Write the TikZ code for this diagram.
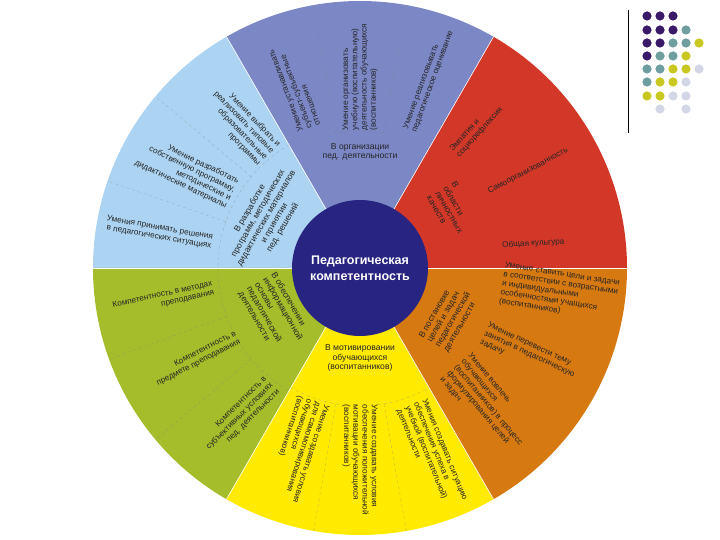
\documentclass[tikz,border=0pt]{standalone}
\usepackage{fontspec}
\setmainfont{Liberation Sans}
\usepackage{xcolor}
\usepackage{tikz}
\usetikzlibrary{calc}

\definecolor{orgblue}{RGB}{124,135,198}
\definecolor{lichred}{RGB}{210,55,40}
\definecolor{celorange}{RGB}{215,121,17}
\definecolor{motyellow}{RGB}{255,234,0}
\definecolor{infgreen}{RGB}{165,189,42}
\definecolor{razrblue}{RGB}{172,212,242}
\definecolor{kernblue}{RGB}{40,36,130}
\definecolor{dotP}{RGB}{58,26,104}
\definecolor{dotT}{RGB}{110,158,160}
\definecolor{dotY}{RGB}{201,200,32}
\definecolor{dotL}{RGB}{211,214,230}

\begin{document}
\begin{tikzpicture}[x=1pt,y=1pt,
    outtxt/.style={font=\fontsize{8.2}{9.2}\selectfont,text=black!85,inner sep=0pt},
    intxt/.style={font=\fontsize{8.6}{9.5}\selectfont,text=black!85,inner sep=0pt},
    subline/.style={draw=black!50,dashed,line width=0.4pt,opacity=0.45},
    rim/.style={draw=white,line width=0.6pt}]
\useasboundingbox (0,0) rectangle (720,540);
\coordinate (O) at (360,272);
% sectors
\fill[orgblue] (O) -- ($(O)+(60:267)$) arc[start angle=60,end angle=120,radius=267] -- cycle;
\fill[razrblue] (O) -- ($(O)+(120:267)$) arc[start angle=120,end angle=180,radius=267] -- cycle;
\fill[infgreen] (O) -- ($(O)+(180:267)$) arc[start angle=180,end angle=240,radius=267] -- cycle;
\fill[motyellow] (O) -- ($(O)+(240:267)$) arc[start angle=240,end angle=300,radius=267] -- cycle;
\fill[celorange] (O) -- ($(O)+(-60:267)$) arc[start angle=-60,end angle=0,radius=267] -- cycle;
\fill[lichred] (O) -- ($(O)+(0:267)$) arc[start angle=0,end angle=60,radius=267] -- cycle;
\draw[rim] (O) -- ($(O)+(0:267)$);
\draw[rim] (O) -- ($(O)+(60:267)$);
\draw[rim] (O) -- ($(O)+(120:267)$);
\draw[rim] (O) -- ($(O)+(180:267)$);
\draw[rim] (O) -- ($(O)+(240:267)$);
\draw[rim] (O) -- ($(O)+(300:267)$);
% inner band and subsections
\draw[subline] ($(O)+(60:137)$) arc[start angle=60,end angle=120,radius=137];
\draw[subline] ($(O)+(120:142)$) arc[start angle=120,end angle=180,radius=142];
\draw[subline] ($(O)+(180:142)$) arc[start angle=180,end angle=240,radius=142];
\draw[subline] ($(O)+(240:138)$) arc[start angle=240,end angle=300,radius=138];
\draw[subline] ($(O)+(80:137)$) -- ($(O)+(80:267)$);
\draw[subline] ($(O)+(100:137)$) -- ($(O)+(100:267)$);
\draw[subline] ($(O)+(140:142)$) -- ($(O)+(140:267)$);
\draw[subline] ($(O)+(161:142)$) -- ($(O)+(161:267)$);
\draw[subline] ($(O)+(200:142)$) -- ($(O)+(200:267)$);
\draw[subline] ($(O)+(220:142)$) -- ($(O)+(220:267)$);
\draw[subline] ($(O)+(260:138)$) -- ($(O)+(260:267)$);
\draw[subline] ($(O)+(280:138)$) -- ($(O)+(280:267)$);
% centre
\fill[kernblue] (O) circle (68);
\node[font=\bfseries\fontsize{12.5}{16}\selectfont,text=white,align=center] (kern) at (O) {Педагогическая\\компетентность};
% organisation
\node[intxt,align=center] (org) at ($(O)+(90:116)$) {В организации\\пед. деятельности};
\node[outtxt,align=left,rotate=70] (org1) at ($(O)+(70:200)$) {Умение реализовывать\\педагогическое оценивание};
\node[outtxt,align=left,rotate=90] (org2) at ($(O)+(90:191)$) {Умение организовать\\учебную (воспитательную)\\деятельность обучающихся\\(воспитанников)};
\node[outtxt,align=left,rotate=110] (org3) at ($(O)+(110:192)$) {Умение устанавливать\\субъект-субъектные\\отношения};
% personal qualities
\node[intxt,align=left,rotate=-60] (lich) at ($(O)+(32:110)$) {В\\области\\личностных\\качеств};
\node[outtxt,align=left,rotate=48] (lich1) at ($(O)+(50:181)$) {Эмпатия и\\социорефлексия};
\node[outtxt,rotate=28] (lich2) at ($(O)+(30:194)$) {Самоорганизованность};
\node[outtxt,rotate=3] (lich3) at ($(O)+(8:175)$) {Общая культура};
% aims
\node[intxt,align=left,rotate=60] (cel) at ($(O)+(-29:102)$) {В постановке\\целей и задач\\педагогической\\деятельности};
\node[outtxt,align=left,rotate=-9] (cel1) at ($(O)+(-7:201)$) {Умение ставить цели и задачи\\в соответствии с возрастными\\и индивидуальными\\особенностями учащихся\\(воспитанников)};
\node[outtxt,align=left,rotate=-25] (cel2) at ($(O)+(-27:190)$) {Умение перевести тему\\занятия в педагогическую\\задачу};
\node[outtxt,align=left,rotate=-50] (cel3) at ($(O)+(-47:188)$) {Умение вовлечь\\обучающихся\\(воспитанников) в процесс\\формулирования целей\\и задач};
% motivation
\node[intxt,align=center] (mot) at ($(O)+(-90:90)$) {В мотивировании\\обучающихся\\(воспитанников)};
\node[outtxt,align=left,rotate=-68] (mot1) at ($(O)+(-69:200)$) {Умения создавать ситуацию\\обеспечения успеха в\\учебной (воспитательной)\\деятельности};
\node[outtxt,align=left,rotate=-90] (mot2) at ($(O)+(-90:192)$) {Умение создавать условия\\обеспечения положительной\\мотивации обучающихся\\(воспитанников)};
\node[outtxt,align=left,rotate=-108] (mot3) at ($(O)+(-109:192)$) {Умение создавать условия\\для самомотивирования\\обучающихся\\(воспитанников)};
% information
\node[intxt,align=left,rotate=-60] (inf) at ($(O)+(208:97)$) {В обеспечении\\информационной\\основы\\педагогической\\деятельности};
\node[outtxt,align=right,rotate=12] (inf1) at ($(O)+(189:199)$) {Компетентность в методах\\преподавания};
\node[outtxt,align=right,rotate=27] (inf2) at ($(O)+(209:187)$) {Компетентность в\\предмете преподавания};
\node[outtxt,align=right,rotate=45] (inf3) at ($(O)+(231:191)$) {Компетентность в\\субъективных условиях\\пед. деятельности};
% programmes
\node[intxt,align=center,rotate=60] (razr) at ($(O)+(152:106)$) {В разработке\\программ, методических\\дидактических материалов\\и принятии\\пед. решений};
\node[outtxt,align=right,rotate=-46] (razr1) at ($(O)+(130:186)$) {Умение выбрать и\\реализовать типовые\\образовательные\\программы};
\node[outtxt,align=right,rotate=-26] (razr2) at ($(O)+(151:198)$) {Умение разработать\\собственную программу,\\методические и\\дидактические материалы};
\node[outtxt,align=right,rotate=-10] (razr3) at ($(O)+(170:204)$) {Умения принимать решения\\в педагогических ситуациях};
% corner dots
\draw[line width=0.8pt] (628,530) -- (628,407);
\fill[dotP] (647,524) circle (4.6) (660,524) circle (4.6) (673,524) circle (4.6)
  (647,510) circle (4.6) (660,510) circle (4.6) (673,510) circle (4.6)
  (647,497) circle (4.6) (660,497) circle (4.6) (647,484) circle (4.6);
\fill[dotT] (686,510) circle (4.6) (673,497) circle (4.6) (686,497) circle (4.6)
  (660,484) circle (4.6) (673,484) circle (4.6) (647,471) circle (4.6)
  (660,471) circle (4.6) (647,458) circle (4.6);
\fill[dotY] (699,497) circle (4.6) (686,484) circle (4.6) (673,471) circle (4.6)
  (686,471) circle (4.6) (660,458) circle (4.6) (673,458) circle (4.6)
  (647,444) circle (4.6) (660,444) circle (4.6);
\fill[dotL] (699,471) circle (4.6) (686,458) circle (4.6) (673,444) circle (4.6)
  (686,444) circle (4.6) (660,431) circle (4.6) (686,431) circle (4.6);
\end{tikzpicture}
\end{document}
